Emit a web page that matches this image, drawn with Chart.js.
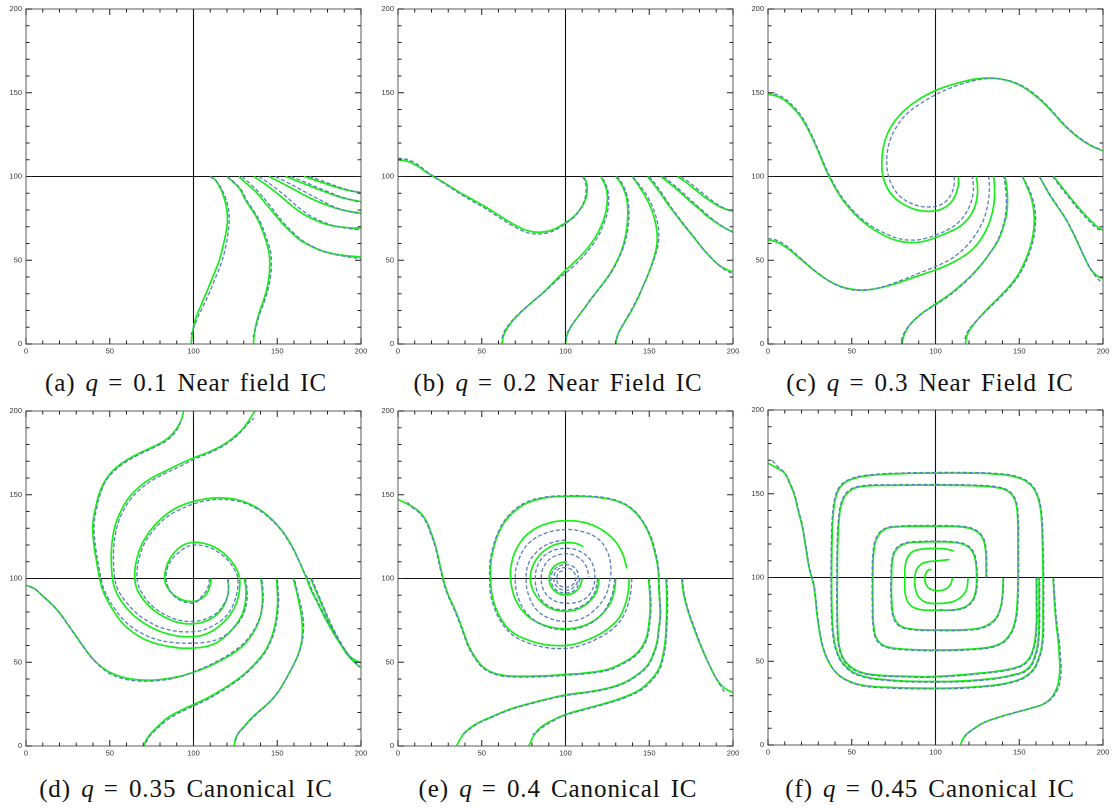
<!DOCTYPE html>
<html>
<head>
<meta charset="utf-8">
<script src="https://cdn.jsdelivr.net/npm/chart.js@4.4.1/dist/chart.umd.min.js"></script>
<style>
  body { margin: 0; background: #fff; width: 1116px; height: 808px; position: relative; overflow: hidden; }
  canvas { position: absolute; }
  .cap { position: absolute; width: 372px; text-align: center; font-family: "Liberation Serif", serif; font-size: 25px; color: #111; letter-spacing: 0.9px; word-spacing: 3px; white-space: nowrap; }
  .cap i { letter-spacing: 0; }
</style>
</head>
<body>
<canvas id="js--a" width="371" height="360" style="left:0px;top:0px"></canvas>
<canvas id="js--b" width="371" height="360" style="left:372px;top:0px"></canvas>
<canvas id="js--c" width="371" height="360" style="left:742px;top:0px"></canvas>
<canvas id="js--d" width="371" height="360" style="left:0px;top:402px"></canvas>
<canvas id="js--e" width="371" height="360" style="left:372px;top:402px"></canvas>
<canvas id="js--f" width="371" height="360" style="left:742px;top:401px"></canvas>
<div id="caps"></div>
<script>
/* streamlines, q panels */

const tickValues = [0, 50, 100, 150, 200];
const panelNames = ["a", "b", "c", "d", "e", "f"];
const qValues = ["0.1", "0.2", "0.3", "0.35", "0.4", "0.45"];
const icNames = ["Near field IC", "Near Field IC", "Near Field IC", "Canonical IC", "Canonical IC", "Canonical IC"];

// (a) q = 0.1
const aG1 = [[110,100],[113.4,97.6],[117.3,90],[119.6,82],[120.3,74],[119.3,66],[117.5,58],[115.4,50],[111.5,40],[107.4,30],[104,22],[101.5,16],[99.8,9],[98.5,0]];
const aB1 = [[110,100],[113.8,97],[118,90],[120.6,82],[121.3,74],[120.6,66],[119,57],[116.5,48],[112.5,38],[108.8,29],[105,21],[101.8,14],[99.5,8],[98,4]];
const aG2 = [[120,100],[124,96.5],[128,92],[131,86],[135,80],[139,73],[142.5,64],[144.8,56],[145.5,50],[145.3,42],[144,34],[141.8,26],[139,18],[137,10],[136,3],[135.8,0]];
const aB2 = [[120,100],[124.3,96.5],[128.5,92],[131.6,86],[135.6,80],[139.8,73],[143.3,64],[145.8,56],[146.5,50],[146.2,42],[144.8,34],[142.5,26],[139.6,18],[137.3,10],[135.6,4]];
const aG3 = [[127,100],[132,95.5],[137,91],[143,84],[148,78],[153,72],[157,68],[163,62.5],[169,59],[176,55.8],[183,54],[191,52.7],[200,52]];
const aB3 = [[129,100],[134,95.5],[139,90.5],[145,83.5],[150,77],[155,71],[159,67],[165,61.8],[171,58.3],[178,55.2],[185,53.3],[193,51.9],[200,51]];
const aG4 = [[136,100],[142,96],[148,91.5],[154,86.5],[160,81.5],[166,77.3],[173,73.8],[180,71.3],[188,69.8],[200,69]];
const aB4 = [[139,100],[145,96],[151,91.5],[157,86.5],[163,81.3],[169,77],[176,73.4],[183,70.8],[191,69.2],[200,68]];
const aG5 = [[145,100],[151,97],[158,93.3],[165,89.5],[172,86],[180,82.8],[187,80.5],[194,79],[200,78.3]];
const aB5 = [[149,100],[155,97],[162,93.3],[169,89.5],[176,85.8],[183,82.3],[190,79.8],[200,77.6]];
const aG6 = [[155,100],[162,97.3],[169,94.5],[176,91.8],[183,89.2],[190,87],[200,85]];
const aB6 = [[158,100],[165,97.3],[172,94.3],[179,91.4],[186,88.6],[193,86.4],[200,84.4]];
const aG7 = [[166,100],[172,98],[178,96],[184,94],[190,92.3],[195,91.2],[200,90.5]];
const aB7 = [[169,100],[175,98],[181,95.8],[187,93.6],[193,91.8],[200,90]];

// (b) q = 0.2
const bG1 = [[0,110],[6,109],[12,106],[17,102.5],[21,100],[28,96],[36,91],[44,86.5],[52,82],[60,77],[68,72],[75,68.5],[80,67],[86,66.8],[92,68],[97,70.5],[101,73],[106,77],[109.5,81.5],[112,86.5],[113,92],[112.5,96.5],[110.8,100]];
const bB1 = [[0,111],[6,110],[12,107],[17,103],[21,100.3],[28,95.5],[36,90.3],[44,85.5],[52,81],[60,75.8],[68,70.8],[75,67.3],[80,65.9],[86,65.8],[92,67.2],[97,69.8],[101,72.5],[105.5,76.2],[109,81],[111.5,86.5],[112.3,92],[111.8,96.5],[110.3,100]];
const bG2 = [[62,0],[63,5],[65.5,10],[69.5,15],[74.5,20],[80,25],[87,31],[94,38],[100,44],[107,50.5],[113,57],[118,64],[121.5,71],[124,78.5],[125,86],[124.5,92],[123,96.5],[121,100]];
const bB2 = [[62,3.5],[63.5,7.5],[66.5,12],[71,17],[76.5,22],[82,26.5],[89,32.5],[96,39],[101.5,43.5],[108.5,50],[114.5,57],[119.3,64],[122.6,71],[125,78.5],[125.8,86],[125.2,92],[123.5,96.5],[121.5,100]];
const bG3 = [[100,0],[100.8,5],[103,10],[106.5,15],[111,21],[116,28],[121.5,35],[126.5,42],[130.5,49],[133.5,56],[135.5,63],[136.8,71],[137.2,79],[136.5,87],[134.5,93],[132,97.5],[130,100]];
const bB3 = [[100,3],[101.5,7.5],[104.3,12],[108,17],[112.5,23],[117.5,29.5],[123,36.5],[127.8,43.5],[131.5,50.5],[134.5,57.5],[136.5,65],[137.7,73],[137.8,81],[136.8,88.5],[134.5,94.5],[132,98.5],[130.5,100]];
const bG4 = [[130,0],[131,5],[133.5,10],[136.5,15],[140,21],[143.5,28],[146.5,35],[149.5,42],[152,49],[154,56],[154.8,63],[154.2,70],[152.5,77],[149.8,84],[146.5,90],[143,95.5],[140,100]];
const bB4 = [[130.5,3],[132,7.5],[134.8,12.5],[138,18],[141.5,24.5],[145,31.5],[148,38.5],[151,45.5],[153.5,52.5],[155.3,59.5],[155.7,66.5],[154.7,73.5],[152.5,80.5],[149.5,87],[146,92.5],[142.5,97],[140,100]];
const bG5 = [[149,100],[153,95],[157,89.5],[161.5,83],[166,77],[171,70.5],[176,64.5],[181,58],[186,52.5],[190.5,48],[195,45],[200,43]];
const bB5 = [[150,100],[154,95],[158,89.3],[162.5,82.5],[167,76.3],[172,69.8],[177,63.5],[182,57],[187,51.5],[191.5,47],[196,43.8],[200,42]];
const bG6 = [[157,100],[162,96],[168,91],[174,85.5],[180,80.5],[185,76],[190,72.5],[195,69.3],[200,67]];
const bB6 = [[158.5,100],[163.5,96],[169.5,90.8],[175.5,85.2],[181.5,80],[186.5,75.5],[191.5,71.8],[196,68.8],[200,66.5]];
const bG7 = [[167,100],[172,96.5],[177,92.5],[182,88.5],[187,85],[192,82],[196,80.3],[200,79.6]];
const bB7 = [[169,100],[174,96.5],[179,92.3],[184,88.3],[189,84.5],[194,81.5],[200,79]];

// (c) q = 0.3
const cG1 = [[0,149],[5,148],[10,145.5],[15,141],[20,135],[25,126],[30,115],[33.5,106.5],[36.5,100],[40.5,92.5],[45,85.5],[50,79.5],[55,74.5],[62,69],[70,64.5],[78,61.5],[86,60.5],[93,61.3],[100,63.5],[108,66.8],[115,70.5],[120,75.5],[123.5,82],[125,89],[125,95],[124.3,100]];
const cB1 = [[0,150],[5,149],[10,146.5],[15,142],[20,136],[25,127],[30,116],[33.5,107.5],[36.5,101],[40.5,93.5],[45,86.5],[50,80.5],[55,75.5],[62,70.3],[70,66],[78,63],[86,62],[93,62.8],[100,65],[107.5,68.3],[113.5,72.5],[118,78],[121,84],[122.5,90.5],[122.5,96],[122,100]];
const cG2 = [[113.7,100],[113.5,94],[111.5,88],[108,83.2],[103,80.3],[97,79.2],[91,79.6],[85,81.3],[79,84.5],[74,89],[70.3,95],[68.3,102],[68,110],[69,118],[71.5,126],[76,133.5],[82,140],[90,146],[100,151.3],[108,154.2],[116,156.5],[124,158.2],[132,158.8],[140,158],[148,155.6],[155,151.7],[161,147],[166.5,142],[171.5,136.5],[176.5,131],[181.5,126.3],[187,122],[193.5,118],[200,115.3]];
const cB2 = [[111.2,100],[111,94.5],[109.3,89.3],[106,85],[101.5,82.6],[96,81.8],[90,82.4],[84.3,84.5],[79,88],[75,93],[72.3,99],[71,106],[71.2,114],[73,122],[77,130],[83,137.5],[91,143.5],[100,148.8],[108,152.5],[116,155.3],[124,157.4],[132,158.5],[140,158],[148,155.9],[155,152.2],[161,147.6],[166.5,142.5],[171.5,137],[176.5,131.5],[181.5,126.8],[187,122.4],[193,118.6],[198,116.3]];
const cG3 = [[0,62],[5,61],[10,58.3],[15,54.5],[20,50.2],[25,46],[30,42],[35,38.5],[40,35.8],[47,33.3],[55,32.2],[63,32.8],[72,34.8],[80,37.3],[90,40.8],[100,44.2],[108,47.5],[115,51.3],[121,55.5],[126,61],[130,67.5],[133,75],[134.8,83],[135.3,91],[134.8,100]];
const cB3 = [[0,63],[5,62],[10,59.3],[15,55.2],[20,50.7],[25,46.3],[30,42.2],[35,38.5],[40,35.6],[47,33],[55,32],[63,32.8],[72,35.2],[80,38.2],[90,42.2],[100,46.3],[107.5,49.8],[113.5,53.8],[118.5,58.5],[123,64],[127,70.5],[130,78],[131.6,86],[132.2,93.5],[131.8,100]];
const cG4 = [[80,0],[80.8,4],[83,9],[86.5,13.5],[91.5,18],[100,23.9],[108,29.3],[115,35],[121.5,41],[127.8,48],[133,55],[137.5,62],[140.5,70],[142.5,78],[143,86],[142.6,93],[141.5,100]];
const cB4 = [[79.5,2],[81,6],[83.8,10.5],[87.8,14.6],[93,19],[100,23.3],[108,28.7],[115,34.5],[121.5,40.6],[127.5,47.5],[132.6,54.6],[137,61.8],[140,69.6],[141.8,77.6],[142.3,86],[141.8,93],[140.8,100]];
const cG5 = [[117.8,0],[118.8,5],[121.5,10],[125.5,15],[130,20],[135,25],[140,30],[145,35.5],[149.7,42],[153,48.5],[155.6,55],[157.6,62],[158.8,70],[158.8,78],[157.5,86],[155,93],[152,100]];
const cB5 = [[117.5,3],[119,7],[122.3,11.5],[126.6,16],[131,20.5],[136,25.2],[141,30.2],[146,35.8],[150.6,42.3],[154,49],[156.6,56],[158.6,63],[159.6,70.5],[159.6,78.5],[158.2,86],[155.6,93],[151.8,100]];
const cG6 = [[162,100],[164.5,95.5],[167.6,90],[172.5,82.5],[177.5,75],[182,66.5],[186,58],[189.3,51],[192.4,45],[196,41],[200,39]];
const cB6 = [[162,100],[164.8,95.3],[168,89.8],[173,82.2],[178,74.5],[182.5,66],[186.5,57.3],[189.8,50.2],[193,44.2],[196.2,39.6],[199,37]];
const cG7 = [[170.5,100],[175,94.3],[180,88],[184.5,82.5],[188.5,78],[192.5,73.8],[196.5,70],[200,68]];
const cB7 = [[170,100],[174.5,93.8],[179.5,87.6],[184,82],[188,77.4],[192,73],[196,69.3],[199.5,67.2]];

// (d) q = 0.35
const dG1 = [[110.5,100],[110,96],[108.5,92],[106,89],[103,87],[100,86.3],[96,86.5],[92,87.8],[88,90.3],[85,93.8],[83.2,97.5],[82.8,101],[83.5,106],[85.5,111],[89,116],[94,120],[100,121.6],[106,121],[112,119],[117.5,115.5],[122,111],[125.5,106],[127.5,100],[127.4,93],[125.5,85],[122,78.5],[117,73],[111,68.5],[105,66],[100,65.3],[93,65.3],[86,66.5],[79,68.8],[72,72.3],[65,77.3],[59.5,83],[55.3,89],[52.7,95],[51.6,100],[51,108],[51,117],[52,126],[54,134],[57.5,142],[62,149],[68,155],[75,160],[83,164],[91,168],[100,172],[108,175],[115.5,178.5],[121,182],[126,186],[130,190],[133.5,195],[136,199],[137,200]];
const dB1 = [[109.5,100],[109,96],[107.5,92.5],[105,89.5],[102.5,86.5],[100,85.3],[96,85.6],[92,87],[88.5,89.5],[85.7,93],[84.2,97],[83.7,101],[84.3,106],[86.5,110.5],[90,114.5],[95,118.3],[100,120],[106,119.5],[111.8,117.5],[117,114],[121.3,110],[124.6,105],[126.4,100],[126.2,93],[124.3,86],[121,79.5],[116,74.5],[110,71],[105,69],[100,68.3],[93,68.2],[86,69.2],[79,71.3],[72.3,74.8],[66.3,79],[61,84.5],[56.8,90],[54.2,95],[53,100],[52.3,108],[52.3,117],[53.3,126],[55.3,134],[58.7,141.5],[63,148],[69,154],[76,159],[84,163.2],[92,167],[100,171],[108,174.3],[115.5,177.8],[121,181.3],[126,185.3],[130,189.5],[133.5,193.5],[136.2,195.6]];
const dG2 = [[120.4,100],[120.9,95],[120.4,89.5],[118.2,84],[114.5,79],[109.5,75.5],[104,73.5],[100,73],[95,73],[89,74.3],[83,76.8],[77,80.5],[72,85],[68.2,90],[65.8,95],[65,100],[65.1,106],[66.5,113],[69,120],[73,127],[78,133],[84,138.5],[91,142.8],[100,146],[108,147.6],[116,148.2],[124,147.5],[131,145.5],[137.5,142.5],[144,137.8],[150,132],[155,125.5],[159.5,118],[163,110.5],[166,103.5],[167.5,100],[170,93.5],[173.8,86],[177.7,78],[181.5,71],[185,65],[189.5,58.5],[194.5,52.5],[200,49.6]];
const dB2 = [[120.6,100],[121,95],[120.3,89.5],[118,84.5],[114.5,80],[109.5,76.8],[104,74.9],[100,74.4],[95,74.5],[89,75.8],[83.2,78.3],[77.5,81.8],[73,86],[69.5,91],[67.2,95.5],[66.3,100],[66.4,106],[67.8,113],[70.3,120],[74.3,126.5],[79.2,132.3],[85.2,137.5],[92.2,141.3],[100,144.5],[108,146.5],[116,147.2],[124,146.6],[131,144.8],[137.5,141.8],[144,137.2],[150,131.5],[155,125],[159.5,117.5],[163.3,110],[166.5,103],[168.2,100],[170.6,93.5],[174.3,86],[178.2,78],[182,70.8],[185.5,64.8],[189.8,58.3],[194.5,52],[199,48]];
const dG3 = [[130.4,100],[131.3,93],[131,86],[129.4,79.4],[126.5,74],[123,69.5],[118.5,65],[113.5,61.5],[107,59.3],[100,58.5],[93,58.4],[86,59.3],[78,61],[70,64],[63,68.5],[57,74],[52,81],[48,88],[45.5,94],[44,100],[42.5,108],[41,117],[40,126],[40,134],[41.5,142],[43.5,150],[47,158],[52,164.5],[59,170],[67,174.5],[75.5,178.5],[83,182.5],[88,187],[91.5,192],[93.5,197],[94,200]];
const dB3 = [[131,100],[132,93],[131.8,86],[130.3,80],[127.5,74.5],[124,70.5],[119.5,66.5],[114,63.5],[107,61.9],[100,61.4],[93,61.4],[86,62],[78,63.6],[70.5,66.6],[63.5,70.7],[57.6,76],[52.6,82.5],[48.6,89],[46,95],[44.8,100],[43.3,108],[41.8,117],[40.8,126],[40.8,134],[42.2,142],[44.2,150],[47.5,158],[52.5,164],[59.5,169.5],[67.5,174],[76,178],[83.5,182],[88.5,186.5],[91.3,191],[92.6,194.5]];
const dG4 = [[0,96],[5,94],[10,89.5],[15,85],[20,79.5],[25,72.5],[30,65.5],[35,58.3],[40,52],[45,47.3],[50,44],[57,41.2],[65,39.7],[75,39.3],[85,40.3],[93,41.9],[100,44],[108,47],[115.4,50.6],[122,54.2],[128,58.5],[133,63.8],[137,70],[139.8,77],[141.1,85],[141,93],[140.2,100]];
const dB4 = [[2,95.3],[6,93.2],[11,88.6],[16,84],[21,78.2],[26,71],[31,63.7],[36,56.7],[41,50.6],[46,46],[51,42.7],[58,40.2],[66,38.9],[76,38.8],[86,40],[94,42],[100,44.3],[108,47.6],[115.4,51.3],[122,55.2],[128.3,59.8],[133.4,65.3],[137.4,71.8],[140.3,79],[141.6,87],[141.4,94],[140.8,100]];
const dG5 = [[70.4,0],[72,4],[75,8],[79,12],[84.6,16.9],[92,21],[100,24.8],[108,28.5],[115.4,32.7],[123,37.5],[130,42.7],[136.5,49],[142,55.6],[145.5,62],[148,69.4],[149.5,77],[150.2,85],[150,93],[149.6,100]];
const dB5 = [[71.5,2],[74,6],[78,10],[83,14.5],[89,18.5],[95,21.5],[100,23.9],[108,27.6],[115.4,31.9],[123,36.8],[130,42],[136.6,48.4],[142.2,55],[146,62],[148.6,69.5],[150.1,77.5],[150.8,85.5],[150.6,93],[150,100]];
const dG6 = [[124.3,0],[125,4],[127,8],[130.5,12],[135,17],[140,21.5],[146,26.8],[151,33],[155,39.7],[159,47],[162.5,54.6],[164.5,62],[165,69.4],[164.5,77],[163,85.3],[161.5,92.5],[159.6,100]];
const dB6 = [[125,3],[126.5,7],[129.5,10.5],[133.5,15],[138.5,19.8],[144,24.8],[149.5,30.8],[154,37.8],[158,45.3],[161.8,52.8],[164.4,60],[165.6,68],[165.5,76],[164,84.5],[162.1,92],[160.2,100]];
const dG7 = [[170,100],[172,95],[175,88],[178,81],[181,74],[184.5,67],[188,60.5],[191.5,55],[195,51],[198,48.2],[200,46.6]];
const dB7 = [[170.6,100],[172.6,95],[175.6,88],[178.6,81],[181.6,74],[185,67],[188.5,60.8],[192,55.2],[195.5,50.8],[199,47.3]];

// (e) q = 0.4
const eG1 = [[110,100],[108.5,95],[105,91.5],[100,90.2],[95,91.5],[91.5,95],[90.3,100],[91.5,105],[95,108.5],[100,110],[101,110]];
const eB1 = [[108.7,100],[106,93.5],[100,91.3],[94,93.5],[91.3,100],[94,106],[100,108.2],[106,106],[107.5,100],[105,94.8],[100,93],[95,95],[93,100],[95,105],[100,106.5],[104.5,104.5],[106,100],[104,96],[100,94.8],[96,96.2],[94.8,100],[96.3,103.8],[100,104.8]];
const eG2 = [[120,100],[118.5,92],[114,86],[107.5,81.8],[100,80.4],[92,81.8],[85.5,86],[80.8,92.5],[79,100],[80.5,107.5],[85,114.5],[92,119.5],[100,121.4],[106,121],[110.7,119]];
const eB2 = [[119.3,100],[117,91],[110.5,84],[100,81.3],[90,83.5],[84,90],[82,100],[84,109],[90,115.5],[100,118],[109,116],[115.5,110],[117.5,100],[115,91.5],[109,86.5],[100,85.3],[92,87.5],[87,93],[85.5,100],[87,107],[92,112.5],[100,114.8],[107,113],[112,108],[114,101]];
const eG3 = [[130,100],[128.8,91],[125,82.5],[118,75.5],[109,71.2],[100,70],[91,71],[82,74.5],[74.5,80.5],[69.5,89],[67.2,100],[68,110],[72,120],[79,127.8],[89,132.8],[100,134.5],[111,133.5],[121,129.5],[129,123],[134,115],[136.6,106]];
const eB3 = [[129.6,100],[127,88],[120,77],[110,71],[100,69.4],[88,71.5],[78,78],[72,88],[70,100],[72,111],[78,121],[88,127],[100,129.2],[110,128],[119,124],[124.5,117],[127,108],[126.5,99],[123.5,89],[116,80],[108,75.5],[100,74.4],[91,76],[83,81],[78,90],[76.5,100],[78,109],[84,117],[92,121.5],[100,123]];
const eG4 = [[138,100],[137.5,92],[135.5,84],[132,76.5],[126,70.5],[118,65.5],[108,61.5],[100,60],[88,60.5],[77,63.5],[68.2,68],[62,75],[58,83.3],[56,91],[55.3,100],[55.5,110],[57.3,119],[60,127],[64.2,134.5],[70,140.5],[77,145],[88,148.2],[100,149],[112,149],[124,147.8],[133,145.3],[140,141],[146,134],[150.5,125],[153.5,115],[155.3,105],[155.7,95],[156.3,85],[156.5,78],[155.5,69],[154.5,61.5],[152,54],[148.5,47.6],[142,42],[134.6,37.7],[125,34.5],[114.7,32.5],[100,30.5],[90,28.3],[80,25.8],[70,23],[63,20.5],[56,17.5],[50,14.9],[44,11.5],[40,8],[37,4],[35,0]];
const eB4 = [[139.6,100],[139,92],[137,83.5],[133.3,75.5],[127,69],[118.5,63.8],[108.5,59.8],[100,58.2],[88,58.8],[76.5,62],[67.5,67],[61.3,74.5],[57.3,83],[55.2,91],[54.7,100],[55,110],[56.8,119],[59.5,127],[63.8,134.8],[69.5,141],[76.5,145.5],[87.5,148.6],[100,149.4],[112,149.3],[124,148.2],[133,145.7],[140,141.5],[146,134.5],[150.8,125.5],[153.8,115.5],[155.6,105.5],[156,95],[156.6,85],[156.8,78],[155.8,69],[154.8,61.3],[152.3,53.7],[148.7,47.2],[142.2,41.6],[134.8,37.3],[125,34.1],[114.7,32.1],[100,30.1],[90,27.9],[80,25.4],[70,22.6],[63,20.1],[56,17.1],[50,14.5],[44.5,11.3],[40.5,8.3],[37.4,6.9]];
const eG5 = [[149.5,100],[150.3,91],[150.5,81.3],[149.8,73],[148.5,65.5],[145.5,59],[140.6,53.6],[133,49],[124.7,45.6],[112,43.6],[100,42.7],[90,42],[80,41.7],[70,41.7],[62,42.3],[55,44.5],[50.3,47.6],[46,53],[42.3,59.5],[39.3,67.5],[36.4,75.4],[33.5,82.5],[30.4,89.3],[28.3,95],[27,100],[25.3,107],[22.5,119],[19.5,128],[16.5,135],[12.5,140],[8.5,142.9],[4,145.3],[0,147.2]];
const eB5 = [[150,100],[150.8,91],[151,81.3],[150.3,73],[149,65.3],[146,58.7],[141,53.2],[133.3,48.5],[125,45.1],[112,43.1],[100,42.2],[90,41.5],[80,41.2],[70,41.2],[62,41.8],[55,44],[50,47.2],[45.7,52.7],[42,59.2],[39,67.2],[36.1,75.1],[33.2,82.2],[30.1,89],[28,94.7],[26.7,99.7],[25,106.7],[22.2,118.7],[19.2,127.7],[16.2,134.7],[12.2,139.7],[8.2,142.7],[4.6,146.8]];
const eG6 = [[160,100],[160.4,90],[160.4,81.3],[160,70],[159.4,61.5],[157.8,52.5],[155.5,45.6],[150.5,39],[144.5,33.7],[135,29.2],[124.7,25.8],[112,22.3],[100,18.8],[92,15.2],[84.9,10.9],[81,6],[78.1,0]];
const eB6 = [[160.5,100],[160.9,90],[160.9,81.3],[160.5,70],[159.9,61.3],[158.3,52.2],[156,45.2],[151,38.6],[145,33.3],[135.5,28.8],[125,25.4],[112.3,21.9],[100,18.4],[92.3,14.8],[85.5,10.6],[82,7.5],[80.1,6.9]];
const eG7 = [[169.4,100],[170.4,91.3],[173,81],[176.3,71.4],[180.2,61],[184.3,51.6],[187.5,45],[190.3,39.7],[193.5,35.8],[196.4,33.5],[200,32]];
const eB7 = [[169.8,100],[170.8,91.3],[173.4,81],[176.7,71.4],[180.6,61],[184.6,51.4],[187.8,44.6],[190.6,39.2],[193.3,34.8],[195.2,31.7]];

// (f) q = 0.45
const fG1 = [[110.1,100],[109.3,96.5],[107,93.7],[103.5,92.3],[100,92.2],[96.5,93.3],[94.3,96],[93.6,100],[94.4,103],[96,104.6],[97.6,104.8]];
const fG2 = [[119.5,100],[118.5,93],[115.5,88.5],[110,85.5],[100,84.5],[93.5,85.5],[89.5,89],[87.8,94.4],[87.7,100],[88.8,105],[92,108.3],[96,109.5],[100,109.8],[104.5,110.3],[108.5,110.7]];
const fG3 = [[140.4,100],[140,90],[138.5,81],[135,74.5],[128,70.3],[118,68.9],[100,68.7],[86,69.2],[78.5,71.5],[75,77],[73.8,88],[73.8,100],[74.3,110],[76.5,116.5],[82,120.2],[92,121.2],[100,121.3],[110,121],[117.5,119.5],[122,115.5],[124,109],[124.5,100],[123.8,91],[120.5,84.5],[113,81],[100,80.5],[90,81],[84.5,84],[82,90],[81.7,100],[82.3,109],[85.5,114.8],[92,117],[100,117.3],[106,117],[111,115.8]];
const fB3 = [[140.6,100],[140.3,90],[138.8,81],[135.3,74.2],[128.2,69.9],[118,68.5],[100,68.3],[86,68.8],[78.2,71.2],[74.6,76.8],[73.4,88],[73.4,100],[73.9,110],[76.1,116.8],[81.8,120.6],[92,121.6],[100,121.7],[110,121.4],[117.8,119.9],[122.4,115.8],[124.4,109.2],[124.9,100],[124.2,90.8],[120.8,84.2],[113.2,80.6],[102.6,80.8]];
const fG4 = [[160.2,100],[160.2,86],[160.2,72.6],[158.6,58.7],[154.3,49.8],[146.3,45.8],[126.4,42.9],[100,40.9],[80,41.1],[63,42],[53,44.5],[46.5,49.5],[43,57],[41.7,68],[41.4,84],[41.4,100],[41.6,118],[42.4,134],[44.3,145],[48.5,151.5],[56,154.3],[75,155],[100,155.1],[122,154.8],[136,153.8],[143.5,151.3],[147.5,146],[149,136],[149.2,120],[149.2,100],[148.8,85],[147.5,74],[144,65.5],[138,60.2],[126,57.6],[100,56.7],[82,57.2],[71,58.7],[65.5,62.5],[63.2,70],[62.6,85],[62.6,100],[63,113.5],[64.8,123],[69.5,128.6],[78,130.3],[100,130.6],[114,130.3],[122,128.8],[127.5,124.5],[129.8,117],[130.2,108],[130.2,100]];
const fB4 = [[160.6,100],[160.6,86],[160.6,72.4],[159,58.4],[154.6,49.4],[146.5,45.4],[126.5,42.5],[100,40.5],[80,40.7],[63,41.6],[52.7,44.1],[46.1,49.2],[42.6,56.8],[41.3,68],[41,84],[41,100],[41.2,118],[42,134.2],[43.9,145.3],[48.2,151.9],[55.8,154.7],[75,155.4],[100,155.5],[122,155.2],[136.2,154.2],[143.8,151.7],[147.9,146.2],[149.4,136],[149.6,120],[149.6,100],[149.2,85],[147.9,73.8],[144.3,65.1],[138.2,59.8],[126,57.2],[100,56.3],[82,56.8],[70.7,58.3],[65.1,62.2],[62.8,70],[62.2,85],[62.2,100],[62.6,113.7],[64.4,123.3],[69.2,129],[78,130.7],[100,131],[114,130.7],[122.3,129.2],[127.9,124.8],[130.2,117.2],[130.6,108],[130.6,100]];
const fG5 = [[0,168.3],[5,165.5],[9.9,162.3],[13,156],[15.5,150],[18,140],[20.5,130],[22.5,118],[24.5,106],[27.4,94.4],[29.4,76.6],[31,66],[32.8,58],[35.5,51],[39.5,44.5],[45,39.8],[55,36],[70,34.5],[100,33.9],[126.4,34.9],[146.3,37.9],[156.3,42.9],[161.2,50.8],[163.8,62.7],[164.2,82.5],[164.2,100],[163.8,122],[163,138],[161,148],[156.5,155.5],[148,160],[135,161.8],[120,162.3],[100,162.3],[80,162],[62,161],[51,159],[44,155],[40.5,148],[38.8,136],[38.2,120],[38,100],[38.2,80],[39.2,65],[41.5,55],[46,47.5],[54,42],[70,39],[100,37.9],[126.4,38.9],[146.3,41.9],[155.3,45.8],[159.8,54.8],[161.5,65],[161.8,80],[161.8,100]];
const fB5 = [[2.6,169.8],[6,166],[10.2,162.3],[13.3,156],[15.8,150],[18.3,140],[20.8,130],[22.8,118],[24.8,106],[27.7,94.4],[29.7,76.6],[31.3,66],[33.1,58],[35.8,51],[39.8,44.3],[45.2,39.5],[55,35.6],[70,34.1],[100,33.5],[126.4,34.5],[146.5,37.5],[156.6,42.6],[161.6,50.6],[164.2,62.6],[164.6,82.5],[164.6,100],[164.2,122],[163.4,138],[161.3,148.3],[156.8,155.9],[148.2,160.4],[135,162.2],[120,162.7],[100,162.7],[80,162.4],[62,161.4],[50.7,159.4],[43.6,155.3],[40.1,148.2],[38.4,136],[37.8,120],[37.6,100],[37.8,80],[38.8,64.8],[41.2,54.7],[45.7,47.1],[53.8,41.6],[70,38.6],[100,37.5],[126.4,38.5],[146.5,41.5],[155.6,45.4],[160.2,54.6],[161.9,65],[162.2,80],[162.2,100]];
const fG6 = [[170.2,100],[171.2,82.5],[172.3,70],[173.2,62.7],[174,52],[174.2,45],[173.5,38],[172,33],[169,28],[164.5,24.5],[157,22],[146.3,19],[136,16],[128,13],[122.5,9.5],[118.5,6.5],[116,3],[115,0]];
const fB6 = [[170.5,100],[171.6,82.5],[172.8,70],[173.8,62.7],[174.7,52],[175,45],[174.4,38],[172.8,33],[170,28.5],[165.5,25],[158,22.3],[147,19.3],[137,16.3],[129,13.3],[123.5,10],[119.5,7],[117.5,5]];

const greenSets = [
    [aG1, aG2, aG3, aG4, aG5, aG6, aG7],
    [bG1, bG2, bG3, bG4, bG5, bG6, bG7],
    [cG1, cG2, cG3, cG4, cG5, cG6, cG7],
    [dG1, dG2, dG3, dG4, dG5, dG6, dG7],
    [eG1, eG2, eG3, eG4, eG5, eG6, eG7],
    [fG1, fG2, fG3, fG4, fG5, fG6]
];
const blueSets = [
    [aB1, aB2, aB3, aB4, aB5, aB6, aB7],
    [bB1, bB2, bB3, bB4, bB5, bB6, bB7],
    [cB1, cB2, cB3, cB4, cB5, cB6, cB7],
    [dB1, dB2, dB3, dB4, dB5, dB6, dB7],
    [eB1, eB2, eB3, eB4, eB5, eB6, eB7],
    [fB3, fB4, fB5, fB6]
];

function toPoints(arr) {
    return arr.map(function (p) { return { x: p[0], y: p[1] }; });
}

// frame, inward ticks and the cross at 100,100
const framePlugin = {
    id: "frame",
    beforeDatasetsDraw: function (chart) {
        const ctx = chart.ctx, a = chart.chartArea;
        const px = chart.scales.x.getPixelForValue(100);
        const py = chart.scales.y.getPixelForValue(100);
        ctx.save();
        ctx.strokeStyle = "#111";
        ctx.lineWidth = 1.1;
        ctx.beginPath();
        ctx.moveTo(px, a.top); ctx.lineTo(px, a.bottom);
        ctx.moveTo(a.left, py); ctx.lineTo(a.right, py);
        ctx.stroke();
        ctx.restore();
    },
    afterDatasetsDraw: function (chart) {
        const ctx = chart.ctx, a = chart.chartArea;
        const sx = chart.scales.x, sy = chart.scales.y;
        ctx.save();
        ctx.strokeStyle = "#777";
        ctx.lineWidth = 1.2;
        ctx.strokeRect(a.left, a.top, a.right - a.left, a.bottom - a.top);
        ctx.strokeStyle = "#222";
        ctx.lineWidth = 1;
        ctx.beginPath();
        for (let v = 0; v <= 200; v += 10) {
            const len = (v % 50 === 0) ? 6 : 3.5;
            const x = sx.getPixelForValue(v), y = sy.getPixelForValue(v);
            ctx.moveTo(x, a.bottom); ctx.lineTo(x, a.bottom - len);
            ctx.moveTo(x, a.top); ctx.lineTo(x, a.top + len);
            ctx.moveTo(a.left, y); ctx.lineTo(a.left + len, y);
            ctx.moveTo(a.right, y); ctx.lineTo(a.right - len, y);
        }
        ctx.stroke();
        ctx.restore();
    }
};

const tickFont = { family: "Liberation Sans", size: 7.5 };

function makeChart(i) {
    const datasets = [];
    blueSets[i].forEach(function (arr) {
        datasets.push({
            data: toPoints(arr),
            showLine: true,
            borderColor: "#5a7ebc",
            borderWidth: 1.3,
            borderDash: [4, 2.2],
            pointRadius: 0,
            tension: 0.4,
            fill: false,
            order: 0
        });
    });
    greenSets[i].forEach(function (arr) {
        datasets.push({
            data: toPoints(arr),
            showLine: true,
            borderColor: "#18ee18",
            borderWidth: 1.7,
            pointRadius: 0,
            tension: 0.4,
            fill: false,
            order: 1
        });
    });

    new Chart(document.getElementById("js--" + panelNames[i]), {
        type: "scatter",
        data: { datasets: datasets },
        options: {
            responsive: false,
            animation: false,
            devicePixelRatio: 2,
            layout: { padding: { left: 0, right: 10, top: 9, bottom: 0 } },
            plugins: { legend: { display: false }, tooltip: { enabled: false } },
            scales: {
                x: {
                    type: "linear", min: 0, max: 200,
                    afterBuildTicks: function (s) { s.ticks = tickValues.map(function (v) { return { value: v }; }); },
                    afterFit: function (s) { s.height = 16; },
                    grid: { display: false, drawTicks: false },
                    border: { display: false },
                    ticks: { padding: 3, font: tickFont, color: "#333", maxRotation: 0, autoSkip: false }
                },
                y: {
                    type: "linear", min: 0, max: 200,
                    afterBuildTicks: function (s) { s.ticks = tickValues.map(function (v) { return { value: v }; }); },
                    afterFit: function (s) { s.width = 26; },
                    grid: { display: false, drawTicks: false },
                    border: { display: false },
                    ticks: { padding: 4, font: tickFont, color: "#333", autoSkip: false }
                }
            }
        },
        plugins: [framePlugin]
    });
}

for (let i = 0; i < 6; i++) {
    makeChart(i);
}

// captions
const caps = document.getElementById("caps");
for (let i = 0; i < 6; i++) {
    const d = document.createElement("div");
    d.className = "cap";
    d.style.left = (i % 3) * 372 + "px";
    d.style.top = (i < 3 ? 369 : 775) + "px";
    d.innerHTML = "(" + panelNames[i] + ") <i>q</i> = " + qValues[i] + " " + icNames[i];
    caps.appendChild(d);
}
</script>
</body>
</html>
